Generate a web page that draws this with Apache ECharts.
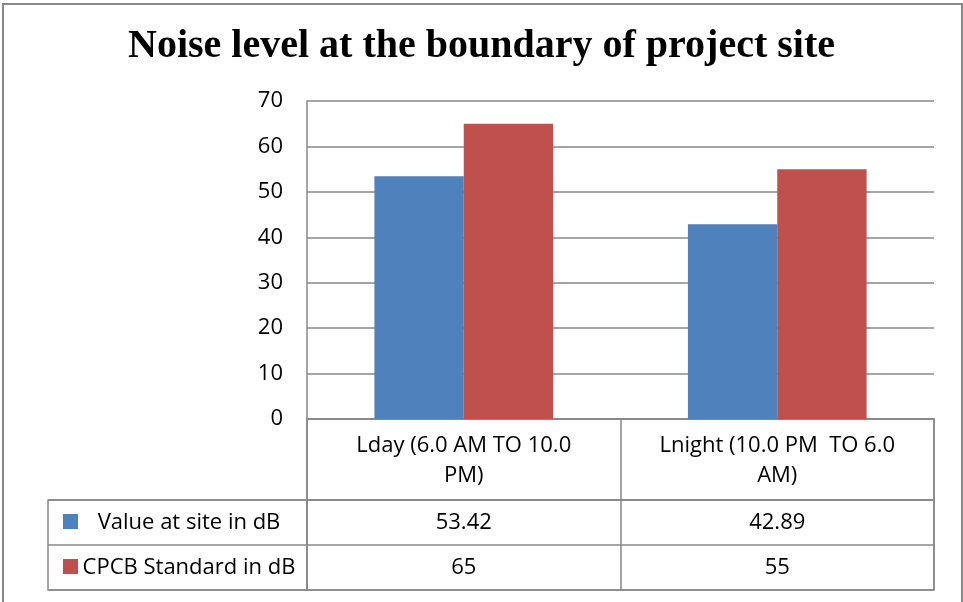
<!DOCTYPE html>
<html>
<head>
<meta charset="utf-8">
<script src="https://cdn.jsdelivr.net/npm/echarts@6/dist/echarts.min.js"></script>
<style>
  html, body { margin: 0; padding: 0; background: #fff; }
  #wrap { position: relative; width: 963px; height: 602px; }
  #chart { position: absolute; left: 0; top: 0; width: 963px; height: 602px; }
  #frame { position: absolute; left: 2px; top: 3px; width: 957px; height: 620px;
           border: 2px solid #888; pointer-events: none; }
</style>
</head>
<body>
<div id="wrap">
  <div id="chart"></div>
  <div id="frame"></div>
</div>
<script>
const titleText = 'Noise level at the boundary of project site';
const categories = ['Lday (6.0 AM TO 10.0 PM)', 'Lnight (10.0 PM  TO 6.0 AM)'];
const categoryLabels = ['Lday (6.0 AM TO 10.0\nPM)', 'Lnight (10.0 PM  TO 6.0\nAM)'];
const seriesNames = ['Value at site in dB', 'CPCB Standard in dB'];
const siteValues = [53.42, 42.89];
const standardValues = [65, 55];
const yTicks = { min: 0, max: 70, interval: 10 };

const FONT = 'Open Sans';
const FS = 22;
const GRID_COLOR = '#888888';
const tableCells = [];
siteValues.forEach((v, i) => tableCells.push([i, 0, v]));
standardValues.forEach((v, i) => tableCells.push([i, 1, v]));

const chart = echarts.init(document.getElementById('chart'), null, { renderer: 'canvas' });
chart.setOption({
  animation: false,
  backgroundColor: '#ffffff',
  title: {
    text: titleText, left: 'center', top: 27, padding: 0,
    textStyle: { fontFamily: 'Liberation Serif', fontWeight: 'bold', fontSize: 40, color: '#000' }
  },
  legend: {
    data: seriesNames, orient: 'vertical', left: 58, top: 509,
    itemWidth: 15, itemHeight: 15, itemGap: 30, icon: 'rect',
    formatter: () => '', textStyle: { fontSize: 10 }, selectedMode: false
  },
  grid: [
    { left: 307, top: 101, width: 627, height: 318 },
    { left: 307, top: 419, width: 627, height: 81, show: true, borderColor: GRID_COLOR, borderWidth: 1.5, backgroundColor: 'transparent' },
    { left: 307, top: 500, width: 627, height: 90, show: true, borderColor: GRID_COLOR, borderWidth: 1.5, backgroundColor: 'transparent' },
    { left: 48, top: 500, width: 259, height: 90, show: true, borderColor: GRID_COLOR, borderWidth: 1.5, backgroundColor: 'transparent' }
  ],
  xAxis: [
    { gridIndex: 0, type: 'category', data: categories,
      axisLine: { show: true, lineStyle: { color: GRID_COLOR, width: 1.5 } },
      axisTick: { show: false }, axisLabel: { show: false }, splitLine: { show: false } },
    { gridIndex: 1, type: 'category', data: categories, position: 'top',
      axisLine: { show: false }, axisTick: { show: false },
      splitLine: { show: true, lineStyle: { color: GRID_COLOR, width: 1.5 } },
      axisLabel: { show: true, inside: true, margin: 12, fontFamily: FONT, fontSize: FS, lineHeight: 30, color: '#000',
        formatter: (v, i) => categoryLabels[i] } },
    { gridIndex: 2, type: 'category', data: categories,
      axisLine: { show: false }, axisTick: { show: false }, axisLabel: { show: false },
      splitLine: { show: true, lineStyle: { color: GRID_COLOR, width: 1.5 } } },
    { gridIndex: 3, type: 'value', show: false }
  ],
  yAxis: [
    { gridIndex: 0, type: 'value', min: yTicks.min, max: yTicks.max, interval: yTicks.interval,
      axisLine: { show: true, lineStyle: { color: GRID_COLOR, width: 1.5 } },
      axisTick: { show: false },
      splitLine: { show: true, lineStyle: { color: GRID_COLOR, width: 1.5 } },
      axisLabel: { margin: 24, fontFamily: FONT, fontSize: FS, color: '#000' } },
    { gridIndex: 1, type: 'value', show: false },
    { gridIndex: 2, type: 'category', data: seriesNames, inverse: true,
      axisLine: { show: false }, axisTick: { show: false }, axisLabel: { show: false },
      splitLine: { show: true, lineStyle: { color: GRID_COLOR, width: 1.5 } } },
    { gridIndex: 3, type: 'category', data: seriesNames, inverse: true,
      axisLine: { show: false }, axisTick: { show: false },
      splitLine: { show: true, lineStyle: { color: GRID_COLOR, width: 1.5 } },
      axisLabel: { inside: true, align: 'center', margin: 141, fontFamily: FONT, fontSize: FS, color: '#000' } }
  ],
  series: [
    { name: seriesNames[0], type: 'bar', xAxisIndex: 0, yAxisIndex: 0, data: siteValues,
      itemStyle: { color: '#4F81BD' }, barGap: '0%', barCategoryGap: '43%' },
    { name: seriesNames[1], type: 'bar', xAxisIndex: 0, yAxisIndex: 0, data: standardValues,
      itemStyle: { color: '#C0504D' }, barGap: '0%', barCategoryGap: '43%' },
    { name: 'table', type: 'scatter', xAxisIndex: 2, yAxisIndex: 2, data: tableCells,
      symbolSize: 1, itemStyle: { color: 'transparent' }, silent: true,
      label: { show: true, position: 'inside', fontFamily: FONT, fontSize: FS, color: '#000',
        opacity: 1, textBorderWidth: 0, textShadowBlur: 0,
        formatter: p => String(p.data[2]) } }
  ]
});
</script>
</body>
</html>
